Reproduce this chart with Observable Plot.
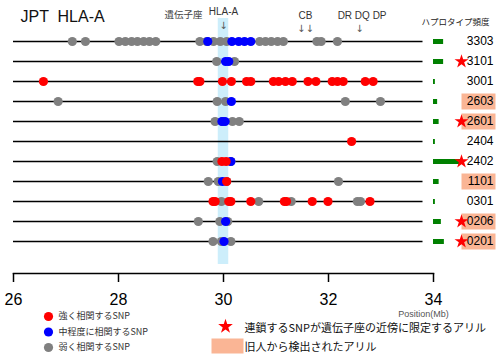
<!DOCTYPE html>
<html><head><meta charset="utf-8">
<script src="https://cdn.jsdelivr.net/npm/d3@7"></script>
<script src="https://cdn.jsdelivr.net/npm/@observablehq/plot@0.6"></script>
<style>body{margin:0;background:#fff}</style>
</head><body><div id="chart"></div>
<script>
// ---- data ----
const alleles = ["3303","3101","3001","2603","2601","2404","2402","1101","0301","0206","0201"];
const haploFreq = [0.135, 0.135, 0.025, 0.055, 0.075, 0.025, 0.36, 0.075, 0.025, 0.105, 0.145];
const linkedAlleles = ["3101","2601","2402","0206","0201"];   // star
const archaicAlleles = ["2603","2601","1101","0206","0201"];  // salmon box
const xTicks = [26, 28, 30, 32, 34];
const regionStart = 26, regionEnd = 33.8;
const hlaABand = [{start: 29.9, end: 30.1}];
const locusLabel = [{label: "HLA-A", pos: 30.0}];
const locusArrow = [{arrow: "↓", pos: 30.0}];
const otherGenes = [{label: "CB", pos: 31.56}, {label: "DR DQ DP", pos: 32.64}];
const otherArrows = [{arrow: "↓↓", pos: 31.56}, {arrow: "↓", pos: 32.59}];

const weakSNPs = [ // gray
  ["3303",27.12],["3303",27.37],["3303",28.01],["3303",28.13],["3303",28.25],["3303",28.36],["3303",28.48],["3303",28.59],["3303",28.71],
  ["3303",29.55],["3303",29.68],["3303",29.81],["3303",29.94],["3303",30.06],["3303",30.69],["3303",30.8],["3303",30.91],["3303",31.03],["3303",31.14],
  ["3303",31.78],["3303",31.86],["3303",32.17],
  ["3101",29.87],["3101",30.21],
  ["2603",26.85],["2603",29.88],["2603",30.04],["2603",32.32],["2603",32.99],
  ["2601",29.84],["2601",29.98],["2601",30.17],["2601",30.3],
  ["2402",29.88],["2402",30.14],
  ["1101",29.71],["1101",29.9],["1101",30.06],["1101",32.19],
  ["0301",29.96],["0301",30.67],["0301",31.29],["0301",32.55],["0301",32.61],
  ["0206",29.52],["0206",29.93],["0206",30.08],
  ["0201",29.8],["0201",29.96],["0201",30.14]
];
const moderateSNPs = [ // blue
  ["3303",29.7],["3303",30.16],["3303",30.29],["3303",30.4],["3303",30.52],
  ["3101",30.04],["3101",30.1],
  ["2603",30.15],
  ["2601",29.97],["2601",30.03],
  ["2402",30.14],
  ["1101",29.98],
  ["0206",30.04],
  ["0201",30.01]
];
const strongSNPs = [ // red
  ["3001",26.57],["3001",29.51],["3001",29.55],["3001",29.98],["3001",30.15],["3001",30.44],["3001",30.52],
  ["3001",30.95],["3001",31.05],["3001",31.18],["3001",31.31],["3001",31.61],["3001",31.76],
  ["3001",32.07],["3001",32.17],["3001",32.28],["3001",32.7],["3001",32.85],
  ["2404",32.44],
  ["2402",29.97],["2402",30.05],
  ["1101",30.06],
  ["0301",29.8],["0301",29.84],["0301",30.1],["0301",30.14],["0301",30.52],["0301",31.16],["0301",31.2],["0301",31.69],["0301",31.99],["0301",32.79]
];

const snpLegend = [
  {label: "強く相関するSNP", color: "#ff0000"},
  {label: "中程度に相関するSNP", color: "#0000ff"},
  {label: "弱く相関するSNP", color: "#808080"}
];
const starLegend = "連鎖するSNPが遺伝子座の近傍に限定するアリル";
const boxLegend = "旧人から検出されたアリル";

// ---- build ----
const toRows = arr => arr.map(([allele, pos]) => ({allele, pos}));
const freqRows = alleles.map((a, i) => ({allele: a, freq: haploFreq[i]}));
const freqToMb = 75 / 52.5; // bar length per unit frequency, in Mb units
const salmon = "#fab595";
const boxSymbol = (w, h) => ({draw(ctx) { ctx.rect(-w / 2, -h / 2, w, h); }});
const jp = "'Noto Sans CJK JP', 'Liberation Sans', sans-serif";
const mid = {textAnchor: "middle", lineAnchor: "middle"};

const marks = [
  Plot.rect(hlaABand, {x1: "start", x2: "end", fill: "#cdeefb", insetBottom: 9}),
  Plot.ruleY(alleles, {y: d => d, x1: () => regionStart, x2: () => regionEnd, stroke: "#000", strokeWidth: 1.4}),
  Plot.dot(toRows(weakSNPs), {x: "pos", y: "allele", r: 4.6, fill: "#808080"}),
  Plot.dot(toRows(moderateSNPs), {x: "pos", y: "allele", r: 4.6, fill: "#0000ff"}),
  Plot.dot(toRows(strongSNPs), {x: "pos", y: "allele", r: 4.6, fill: "#ff0000"}),
  // frequency bars
  Plot.ruleY(freqRows, {y: "allele", x1: () => regionEnd + 0.2, x2: d => regionEnd + 0.2 + d.freq * freqToMb, stroke: "#008000", strokeWidth: 5}),
  // archaic boxes, labels, stars
  Plot.dot(archaicAlleles, {y: d => d, frameAnchor: "right", dx: 45, symbol: boxSymbol(34, 16), fill: salmon}),
  Plot.text(alleles, {y: d => d, text: d => d, frameAnchor: "right", dx: 60, textAnchor: "end", lineAnchor: "middle", fontSize: 12, fill: "#000", fontFamily: "'Liberation Sans', sans-serif"}),
  Plot.dot(linkedAlleles, {y: d => d, frameAnchor: "right", dx: 28, symbol: "star", r: 4.4, fill: "#ff0000"}),
  // axis
  Plot.axisX({ticks: xTicks, tickSize: 9, tickPadding: 11, fontSize: 16, strokeWidth: 1.5, tickFormat: d => d, fill: "#000", stroke: "#000"}),
  Plot.frame({anchor: "bottom", strokeWidth: 1.5, stroke: "#000"}),
  Plot.text(["Position(Mb)"], {...mid, frameAnchor: "bottom-right", dx: -10, dy: 40.5, fontSize: 9, fill: "#555"}),
  // top annotations
  Plot.text(["JPT  HLA-A"], {frameAnchor: "top-left", dx: 7, dy: -2, textAnchor: "start", lineAnchor: "middle", fontSize: 16, fill: "#111"}),
  Plot.text(["遺伝子座"], {...mid, frameAnchor: "top-left", dx: 170, dy: -4, fontSize: 9.5, fill: "#444", fontFamily: jp}),
  Plot.text(locusLabel, {...mid, x: "pos", text: "label", frameAnchor: "top", dy: -7, fontSize: 10, fill: "#333"}),
  Plot.text(locusArrow, {...mid, x: "pos", text: "arrow", frameAnchor: "top", dy: 7, fontSize: 10, fill: "#555", fontFamily: "'DejaVu Sans', sans-serif"}),
  Plot.text(otherGenes, {...mid, x: "pos", text: "label", frameAnchor: "top", dy: -3, fontSize: 10, fill: "#333"}),
  Plot.text(otherArrows, {...mid, x: "pos", text: "arrow", frameAnchor: "top", dy: 10, fontSize: 10, fill: "#555", fontFamily: "'DejaVu Sans', sans-serif"}),
  Plot.text(["ハプロタイプ頻度"], {...mid, frameAnchor: "top-right", dx: 22, dy: 4, fontSize: 8.5, fill: "#222", fontFamily: jp}),
  // bottom legend
  ...snpLegend.flatMap((d, i) => [
    Plot.dot([d], {frameAnchor: "bottom-left", dx: 35, dy: 43 + i * 15.5, r: 4.6, fill: "color"}),
    Plot.text([d], {frameAnchor: "bottom-left", dx: 45, dy: 43 + i * 15.5, text: "label", textAnchor: "start", lineAnchor: "middle", fontSize: 9, fill: "#333", fontFamily: jp})
  ]),
  Plot.dot([starLegend], {frameAnchor: "bottom-left", dx: 212, dy: 53, symbol: "star", r: 4.6, fill: "#ff0000"}),
  Plot.text([starLegend], {frameAnchor: "bottom-left", dx: 231, dy: 55, text: d => d, textAnchor: "start", lineAnchor: "middle", fontSize: 11, fill: "#111", fontFamily: jp}),
  Plot.dot([boxLegend], {frameAnchor: "bottom-left", dx: 214, dy: 72.5, symbol: boxSymbol(32, 15), fill: salmon}),
  Plot.text([boxLegend], {frameAnchor: "bottom-left", dx: 231, dy: 73.5, text: d => d, textAnchor: "start", lineAnchor: "middle", fontSize: 11, fill: "#111", fontFamily: jp})
];

const chart = Plot.plot({
  width: 500, height: 358,
  marginTop: 18, marginBottom: 85, marginLeft: 13, marginRight: 67,
  x: {domain: [26, 34]},
  y: {type: "point", domain: alleles, range: [39, 243], padding: 0, axis: null},
  style: {fontFamily: "'Liberation Sans', 'Noto Sans CJK JP', sans-serif", fontSize: "10px", background: "#fff", color: "#000", overflow: "visible"},
  marks
});
document.getElementById("chart").appendChild(chart);
</script>
</body></html>
